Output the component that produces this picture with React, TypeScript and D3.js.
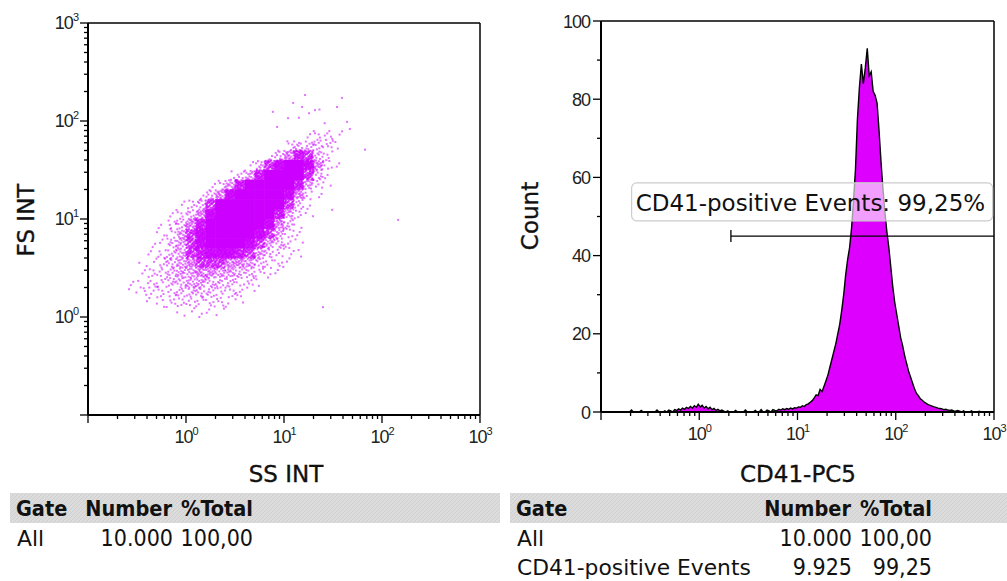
import React from 'react'
import * as d3 from 'd3'

const WIDTH = 1007
const HEIGHT = 581

const scatterColor = '#cc00ff'
const histColor = '#dd00ff'
const textFont = "'DejaVu Sans', Verdana, sans-serif"
const narrowFont = "'DejaVu Sans Condensed', 'DejaVu Sans', sans-serif"
const tickFont = "'Liberation Sans', Arial, sans-serif"

// FS INT vs SS INT: event density per 0.1 decade cell (0 empty .. 9 solid)
const densityLogX0 = -0.6
const densityLogYTop = 2.0
const densityStep = 0.1
const densityRows = [
  '00000000000000000000000',
  '00000000000000000012210',
  '00000000000000002333210',
  '00000000000000135763200',
  '00000000000013689985210',
  '00000000001247999963100',
  '00000000124799999742100',
  '00000001358999998521000',
  '00000123699999996310000',
  '00001235899999974210000',
  '00012357999999853100000',
  '00012468999998642100000',
  '00113468999986432100000',
  '00123467888764321100000',
  '01123456665543221000000',
  '01223445544332110000000',
  '11223344333221000000000',
  '11122333322210000000000',
  '00112222221100000000000',
  '00000111110000000000000',
  '00000000000000000000000',
]

// stray events away from the cloud: [SS INT, FS INT]
const scatterOutliers = [
  [16.4, 184], [12.4, 153], [7.7, 124], [15.3, 139], [20.7, 129], [23, 131],
  [39, 172], [34.8, 139], [11, 107], [8.5, 87], [44, 98], [47, 83],
  [67, 51], [146, 9.8], [31, 12.4], [25, 1.26], [0.38, 1.84], [0.51, 2.02],
  [0.58, 1.49], [14.2, 108], [26, 95], [29, 79], [18, 120],
]

// CD41-PC5 histogram: counts per 0.02 decade channel starting at 10^-1
const histLogStart = -1
const histLogStep = 0.02
const histCounts = [
  0, 0, 0, 0, 0, 0, 0, 0, 0, 0, 0, 0, 0, 0, 0, 0.5, 0, 0, 0, 0,
  0.4, 0, 0, 0, 0, 0, 0, 0, 0.5, 0, 0, 0, 0.3, 0, 0.5, 0.3, 0, 0.6, 0.4, 0.8,
  0.5, 1.0, 0.7, 1.2, 0.9, 1.4, 1.0, 1.6, 1.2, 2.0, 1.3, 1.7, 1.0, 1.4, 0.8, 1.2, 0.6, 0.9, 0.4, 0.7,
  0.3, 0.5, 0.2, 0, 0.3, 0, 0, 0, 0.4, 0, 0, 0, 0, 0.5, 0, 0, 0, 0, 0.4, 0,
  0, 0.6, 0, 0, 0.5, 0.3, 0, 0.6, 0.4, 0.3, 0.7, 0.5, 0.8, 0.6, 0.9, 0.7, 1.0, 0.8, 1.1, 1.0,
  1.3, 1.2, 1.6, 1.4, 1.9, 2.1, 2.5, 2.9, 3.6, 4.4, 4.2, 5.8, 5.2, 6.6, 8.0, 9.5, 11.5, 13.5, 15.5, 17.5,
  20, 22.5, 26, 30, 35, 39, 42, 47, 54, 62, 75, 83, 89, 84, 88, 93, 86, 87, 82, 81,
  79, 72, 64, 57, 51, 46, 42, 37, 32, 28, 25, 22, 19, 17, 14.5, 12.5, 10.5, 9, 7.5, 6,
  4.8, 4.2, 3.4, 3.0, 2.5, 2.2, 1.9, 1.7, 1.5, 1.3, 1.2, 1.0, 0.9, 0.8, 0.6, 0.7, 0.5, 0.4, 0.5, 0.3,
  0.2, 0.4, 0.2, 0, 0.3, 0, 0, 0, 0.3, 0, 0, 0, 0.2, 0, 0, 0, 0, 0, 0, 0,
]

// gate on the histogram
const gateFrom = 2.1
const gateTo = 1000
const gateLevel = 45
const gateText = 'CD41-positive Events: 99,25%'
const gateLabelAt = [0.205, 58.6]

const logDomain = [0.1, 1000]
const logLabelled = [1, 10, 100, 1000]
const countDomain = [0, 100]
const countLabelled = [0, 20, 40, 60, 80, 100]
const countMinor = [10, 30, 50, 70, 90]

const tableHeader = ['Gate', 'Number', '%Total']
const leftRows = [['All', '10.000', '100,00']]
const rightRows = [
  ['All', '10.000', '100,00'],
  ['CD41-positive Events', '9.925', '99,25'],
]

const dotsPerLevel = [0, 2, 5, 9, 15, 23, 34, 50, 72]

// low discrepancy spread of dots inside a cell
const radical = (i: number, b: number) => {
  let f = 1
  let r = 0
  while (i > 0) {
    f /= b
    r += f * (i % b)
    i = Math.floor(i / b)
  }
  return r
}

const PowLabel = ({ x, y, value, anchor }: any) => {
  const exp = Math.round(Math.log10(value))
  return (
    <text x={x} y={y} textAnchor={anchor} fontFamily={tickFont} fontSize={18} letterSpacing={-1} fill="#222">
      <tspan>10</tspan>
      <tspan dy={-8} fontSize={11}>{exp}</tspan>
    </text>
  )
}

const LogXAxis = ({ scale, y }: any) => {
  const ticks = scale.ticks()
  return (
    <g>
      <line x1={scale.range()[0]} x2={scale.range()[1]} y1={y} y2={y} stroke="#000" strokeWidth={2} />
      {ticks.map((t: number, i: number) => {
        const major = Math.abs(Math.log10(t) % 1) < 1e-6
        return <line key={i} x1={scale(t)} x2={scale(t)} y1={y} y2={y + (major ? 8 : 4)} stroke="#000" strokeWidth={1.3} />
      })}
      {logLabelled.map((t) => <PowLabel key={t} x={scale(t)} y={y + 28} value={t} anchor="middle" />)}
    </g>
  )
}

const LogYAxis = ({ scale, x }: any) => {
  const ticks = scale.ticks()
  return (
    <g>
      <line x1={x} x2={x} y1={scale.range()[0]} y2={scale.range()[1]} stroke="#000" strokeWidth={2} />
      {ticks.map((t: number, i: number) => {
        const major = Math.abs(Math.log10(t) % 1) < 1e-6
        return <line key={i} x1={x - (major ? 8 : 4)} x2={x} y1={scale(t)} y2={scale(t)} stroke="#000" strokeWidth={1.3} />
      })}
      {logLabelled.map((t) => <PowLabel key={t} x={x - 10} y={scale(t) + 6} value={t} anchor="end" />)}
    </g>
  )
}

const Title = ({ x, y, rotate, children }: any) => (
  <text transform={`translate(${x},${y})${rotate ? ' rotate(-90)' : ''}`} textAnchor="middle" fontFamily={textFont}
    fontSize={23} fill="#111" stroke="#111" strokeWidth={0.35}>
    {children}
  </text>
)

const Table = ({ x0, x1, numberEnd, totalEnd, rows }: any) => (
  <g fill="#111">
    <rect x={x0} y={493} width={x1 - x0} height={30} fill="url(#hatch)" />
    <g fontFamily={narrowFont} fontWeight="bold" fontSize={21.5}>
      <text x={x0 + 6} y={516}>{tableHeader[0]}</text>
      <text x={numberEnd - 1} y={516} textAnchor="end">{tableHeader[1]}</text>
      <text x={totalEnd} y={516} textAnchor="end">{tableHeader[2]}</text>
    </g>
    {rows.map((r: string[], i: number) => (
      <g key={i}>
        <text x={x0 + 7} y={546 + i * 29} fontFamily={textFont} fontSize={21.8}>{r[0]}</text>
        <text x={numberEnd} y={546 + i * 29} textAnchor="end" fontFamily={narrowFont} fontSize={23}>{r[1]}</text>
        <text x={totalEnd} y={546 + i * 29} textAnchor="end" fontFamily={narrowFont} fontSize={23}>{r[2]}</text>
      </g>
    ))}
  </g>
)

const App = () => {
  // scatter plot scales
  const xs = d3.scaleLog().domain(logDomain).range([88, 480])
  const ys = d3.scaleLog().domain(logDomain).range([415, 23])

  const solid: any[] = []
  const dots: any[] = []
  densityRows.forEach((row, j) => {
    row.split('').forEach((ch, k) => {
      const level = +ch
      if (!level) return
      const lx0 = densityLogX0 + k * densityStep
      const ly1 = densityLogYTop - j * densityStep
      if (level === 9) {
        const a = xs(10 ** lx0)
        const b = xs(10 ** (lx0 + densityStep))
        const c = ys(10 ** ly1)
        const d = ys(10 ** (ly1 - densityStep))
        solid.push(<rect key={`s${j}-${k}`} x={a - 0.3} y={c - 0.3} width={b - a + 0.6} height={d - c + 0.6} fill={scatterColor} />)
        return
      }
      const su = (k * 0.7548777 + j * 0.5698403) % 1
      const sv = (k * 0.5698403 + j * 0.7548777) % 1
      const op = level >= 6 ? 0.75 : 0.55
      for (let i = 0; i < dotsPerLevel[level]; i++) {
        const u = (radical(i + 1, 2) + su) % 1
        const v = (radical(i + 1, 3) + sv) % 1
        dots.push(
          <rect key={`d${j}-${k}-${i}`} x={xs(10 ** (lx0 + u * densityStep)) - 1} y={ys(10 ** (ly1 - v * densityStep)) - 1}
            width={2} height={2} fill={scatterColor} opacity={op} />
        )
      }
    })
  })

  // histogram scales
  const xh = d3.scaleLog().domain(logDomain).range([601, 994])
  const yh = d3.scaleLinear().domain(countDomain).range([412, 21])
  const pts: [number, number][] = histCounts.map((c, i) => [10 ** (histLogStart + (i + 0.5) * histLogStep), c])
  const area = d3.area<[number, number]>().x((d) => xh(d[0])).y0(yh(0)).y1((d) => yh(d[1]))
  const line = d3.line<[number, number]>().x((d) => xh(d[0])).y((d) => yh(d[1]))

  const gx0 = xh(gateFrom)
  const gx1 = xh(gateTo)
  const gy = yh(gateLevel)
  const lbx = xh(gateLabelAt[0])
  const lby = yh(gateLabelAt[1])

  return (
    <svg width={WIDTH} height={HEIGHT} style={{ position: 'absolute', left: 0, top: 0, background: '#fff' }}>
      <defs>
        <pattern id="hatch" width={4} height={4} patternUnits="userSpaceOnUse">
          <rect width={4} height={4} fill="#dcdcdc" />
          <path d="M0,4 L4,0" stroke="#cfcfcf" strokeWidth={1} />
        </pattern>
        <clipPath id="scatterClip">
          <rect x={88} y={23} width={392} height={392} />
        </clipPath>
        <clipPath id="histClip">
          <rect x={601} y={0} width={393} height={412} />
        </clipPath>
      </defs>

      {/* scatter: FS INT vs SS INT */}
      <g clipPath="url(#scatterClip)">
        {dots}
        {solid}
        {scatterOutliers.map((p, i) => (
          <rect key={i} x={xs(p[0]) - 1} y={ys(p[1]) - 1} width={2} height={2} fill={scatterColor} opacity={0.55} />
        ))}
      </g>
      <line x1={88} x2={480} y1={23} y2={23} stroke="#000" strokeWidth={1.5} />
      <line x1={480} x2={480} y1={23} y2={415} stroke="#000" strokeWidth={1.5} />
      <LogXAxis scale={xs} y={415} />
      <LogYAxis scale={ys} x={88} />
      <Title x={34} y={220} rotate>FS INT</Title>
      <Title x={286} y={482}>SS INT</Title>

      {/* histogram: CD41-PC5 */}
      <g clipPath="url(#histClip)">
        <path d={area(pts) as string} fill={histColor} />
        <path d={line(pts) as string} fill="none" stroke="#000" strokeWidth={1.4} />
      </g>
      <line x1={601} x2={994} y1={21} y2={21} stroke="#000" strokeWidth={1.5} />
      <line x1={994} x2={994} y1={21} y2={412} stroke="#000" strokeWidth={1.5} />
      <LogXAxis scale={xh} y={412} />
      <g>
        <line x1={601} x2={601} y1={412} y2={21} stroke="#000" strokeWidth={2} />
        {countMinor.map((t) => <line key={t} x1={597} x2={601} y1={yh(t)} y2={yh(t)} stroke="#000" strokeWidth={1.3} />)}
        {countLabelled.map((t) => (
          <g key={t}>
            <line x1={593} x2={601} y1={yh(t)} y2={yh(t)} stroke="#000" strokeWidth={1.3} />
            <text x={590} y={yh(t) + 6.5} textAnchor="end" fontFamily={tickFont} fontSize={18} letterSpacing={-1} fill="#222">{t}</text>
          </g>
        ))}
      </g>
      <Title x={538} y={216} rotate>Count</Title>
      <Title x={798} y={482}>CD41-PC5</Title>

      {/* gate */}
      <line x1={gx0} x2={gx1} y1={gy} y2={gy} stroke="#000" strokeWidth={1.3} />
      <line x1={gx0} x2={gx0} y1={gy - 6} y2={gy + 6} stroke="#000" strokeWidth={1.3} />
      <rect x={lbx} y={lby} width={361} height={38} rx={5} fill="#fff" fillOpacity={0.62} stroke="#cccccc" strokeWidth={1.2} />
      <text x={lbx + 4} y={lby + 28} fontFamily={textFont} fontSize={23} fill="#111">{gateText}</text>

      {/* statistics tables */}
      <Table x0={10} x1={500} numberEnd={173} totalEnd={253} rows={leftRows} />
      <Table x0={510} x1={1007} numberEnd={852} totalEnd={932} rows={rightRows} />
    </svg>
  )
}

export default App
